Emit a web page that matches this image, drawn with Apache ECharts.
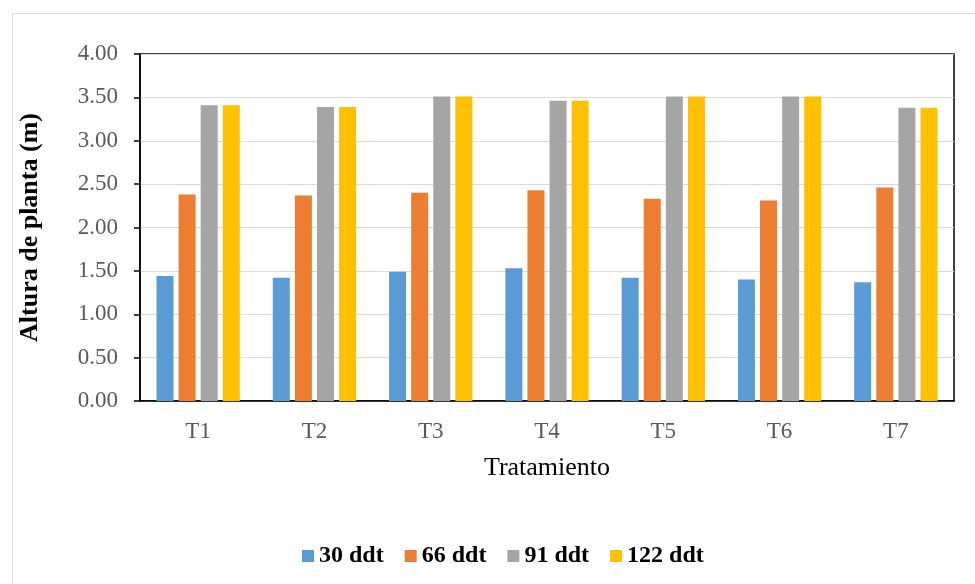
<!DOCTYPE html>
<html>
<head>
<meta charset="utf-8">
<script src="https://cdn.jsdelivr.net/npm/echarts@6/dist/echarts.min.js"></script>
<style>
html,body{margin:0;padding:0;background:#fff;}
#chart{width:975px;height:584px;}
</style>
</head>
<body>
<div id="chart"></div>
<script>
var categories = ['T1','T2','T3','T4','T5','T6','T7'];
var seriesNames = ['30 ddt','66 ddt','91 ddt','122 ddt'];
var d30 = [1.44, 1.42, 1.49, 1.53, 1.42, 1.40, 1.37];
var d66 = [2.38, 2.37, 2.40, 2.43, 2.33, 2.31, 2.46];
var d91 = [3.41, 3.39, 3.51, 3.46, 3.51, 3.51, 3.38];
var d122 = [3.41, 3.39, 3.51, 3.46, 3.51, 3.51, 3.38];
var colors = ['#5B9BD5','#ED7D31','#A5A5A5','#FFC000'];
var allData = [d30, d66, d91, d122];

var font = 'Liberation Serif';
var chart = echarts.init(document.getElementById('chart'));
var series = seriesNames.map(function(n, i){
  return {
    name: n, type: 'bar', data: allData[i],
    barWidth: 17, barGap: '30%',
    itemStyle: {color: colors[i]}
  };
});
chart.setOption({
  animation: false,
  color: colors,
  graphic: [{
    type: 'rect', left: 10, top: 11, silent: true, z: -1,
    shape: {width: 1000, height: 1000},
    style: {fill: 'none', stroke: '#d9d9d9', lineWidth: 1}
  }],
  grid: {left: 140, right: 21, top: 54, bottom: 183, show: true, borderColor: '#000', borderWidth: 1.5, backgroundColor: 'transparent'},
  legend: {
    data: seriesNames, left: 297, top: 539,
    itemWidth: 12, itemHeight: 12, itemGap: 21, icon: 'rect',
    textStyle: {fontFamily: font, fontSize: 24, fontWeight: 'bold', color: '#000'}
  },
  xAxis: {
    type: 'category', data: categories,
    name: 'Tratamiento', nameLocation: 'middle', nameGap: 54,
    nameTextStyle: {fontFamily: font, fontSize: 26, color: '#000'},
    axisLine: {lineStyle: {color: '#000', width: 1.5}},
    axisTick: {show: false},
    axisLabel: {fontFamily: font, fontSize: 23, color: '#595959', margin: 19}
  },
  yAxis: {
    type: 'value', min: 0, max: 4, interval: 0.5,
    name: 'Altura de planta (m)', nameLocation: 'middle', nameGap: 97,
    nameTextStyle: {fontFamily: font, fontSize: 26, fontWeight: 'bold', color: '#000'},
    axisLine: {show: true, lineStyle: {color: '#000', width: 1.5}},
    axisTick: {show: true, length: 6, lineStyle: {color: '#000', width: 1.5}},
    axisLabel: {fontFamily: font, fontSize: 23, color: '#595959', margin: 22,
      formatter: function(v){ return v.toFixed(2); }},
    splitLine: {lineStyle: {color: '#d9d9d9', width: 1}}
  },
  series: series
});
</script>
</body>
</html>
